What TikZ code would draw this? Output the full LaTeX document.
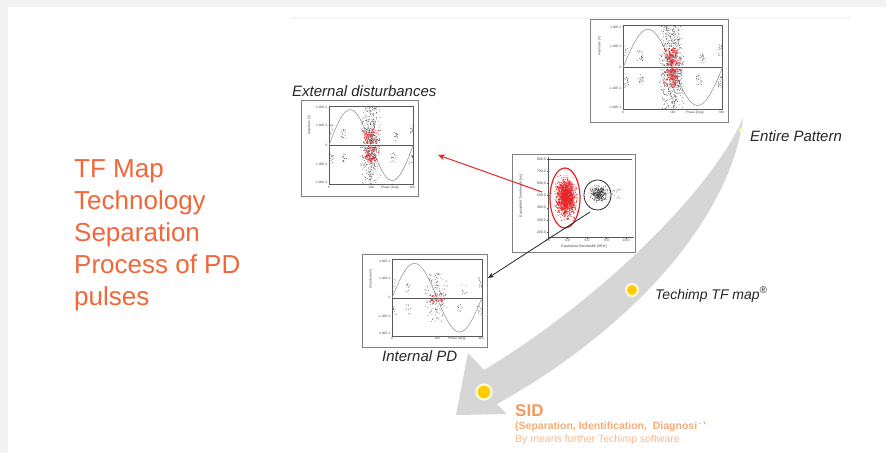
\documentclass[tikz,border=0pt]{standalone}
\usepackage{fontspec}
\setmainfont{Liberation Sans}
\usetikzlibrary{arrows.meta}
\definecolor{titleorange}{HTML}{F0673A}
\definecolor{sidorange}{HTML}{F29A5C}
\definecolor{sidmid}{HTML}{F4AC78}
\definecolor{sidlight}{HTML}{F6BC90}
\definecolor{pagegray}{HTML}{F2F2F2}
\definecolor{arrowgray}{HTML}{D6D6D6}
\definecolor{dotyellow}{HTML}{FFCC00}
\definecolor{labelgray}{HTML}{262626}
\definecolor{plotred}{HTML}{E8262A}
\newcommand\tinyfont{\fontsize{3.2}{3.6}\selectfont}
\newcommand\smallplotfont{\fontsize{3.6}{4.2}\selectfont}
\tikzset{
  plotframe/.style={draw=black!50, line width=1.1pt, fill=white, inner sep=0pt, anchor=north west},
  axisline/.style={draw=black!65, line width=0.35pt},
  sinecurve/.style={draw=black!45, line width=0.5pt},
  ticklab/.style={font=\tinyfont, text=black!70, inner sep=0pt},
  tflab/.style={font=\smallplotfont, text=black!70, inner sep=0pt},
  graydot/.style={fill=black!65},
  reddot/.style={fill=plotred},
  lab/.style={font=\fontsize{15}{18}\selectfont\itshape, text=labelgray, inner sep=0pt, anchor=base west},
  yellowdot/.style={circle, fill=dotyellow, draw=yellow!12, line width=2pt, inner sep=0pt},
  redarrow/.style={draw=plotred, line width=1pt, -{Stealth[length=7pt,width=6pt]}},
  blackarrow/.style={draw=black!85, line width=0.8pt, -{Stealth[length=6pt,width=5pt]}}
}
% #1 node, #2 w, #3 h, #4 seed, #5 Ngray, #6 gray amp, #7 Nred, #8 red amp, #9 Nside
\newcommand\prpdplot[9]{%
\begin{scope}[shift={(#1.north west)}]
\pgfmathsetseed{#4}
\pgfmathsetmacro\aL{0.24*#2}
\pgfmathsetmacro\aR{0.96*#2}
\pgfmathsetmacro\aT{0.06*#3}
\pgfmathsetmacro\aB{0.88*#3}
\pgfmathsetmacro\aM{0.5*(\aT+\aB)}
\pgfmathsetmacro\aW{\aR-\aL}
\pgfmathsetmacro\aH{\aM-\aT}
\draw[axisline] (\aL,\aT) rectangle (\aR,\aB);
\draw[axisline] (\aL,\aM) -- (\aR,\aM);
\node[ticklab,anchor=east] (#1-y1) at (\aL-1.5,\aT+2) {2.00E-2};
\node[ticklab,anchor=east] (#1-y2) at (\aL-1.5,\aM-0.5*\aH) {1.00E-2};
\node[ticklab,anchor=east] (#1-y3) at (\aL-1.5,\aM) {0};
\node[ticklab,anchor=east] (#1-y4) at (\aL-1.5,\aM+0.5*\aH) {-1.00E-2};
\node[ticklab,anchor=east] (#1-y5) at (\aL-1.5,\aB-2) {-2.00E-2};
\node[ticklab,anchor=north] (#1-x1) at (\aL,\aB+1.2) {0};
\node[ticklab,anchor=north] (#1-x2) at (\aL+0.5*\aW,\aB+1.2) {180};
\node[ticklab,anchor=north] (#1-x3) at (\aL+0.72*\aW,\aB+1.2) {Phase [Deg]};
\node[ticklab,anchor=north] (#1-x4) at (\aR-1,\aB+1.2) {360};
\node[ticklab,rotate=90] (#1-ya) at (0.07*#2,\aM-0.5*\aH) {Amplitude [V]};
\draw[sinecurve] plot[domain=0:360,samples=73,smooth] ({\aL+\aW*(\x/360)},{\aM-0.9*\aH*sin(\x)});
\foreach \i in {1,...,#5}{%
  \pgfmathsetmacro\rr{rnd}%
  \pgfmathsetmacro\px{\aL+\aW*(0.49+0.065*(rand+rand))}%
  \pgfmathsetmacro\py{\aM-\aH*(0.04+#6*\rr*(0.45+0.55*\rr))*(rand<0?-1:1)}%
  \fill[graydot] (\px,\py) circle[radius=0.45];
}
\foreach \cx/\ca in {0.015/0.4,0.17/0.28,0.8/0.22,0.985/0.4,0.03/-0.35,0.18/-0.3,0.76/-0.3,0.975/-0.35}{%
  \foreach \j in {1,...,#9}{%
    \pgfmathsetmacro\px{\aL+\aW*max(0.004,min(0.996,\cx+0.03*rand))}%
    \pgfmathsetmacro\py{\aM-\aH*(\ca+0.13*rand)}%
    \fill[graydot] (\px,\py) circle[radius=0.45];
  }
}
\foreach \i in {1,...,#7}{%
  \pgfmathsetmacro\px{\aL+\aW*(0.5+0.05*(rand+rand))}%
  \pgfmathsetmacro\py{\aM-\aH*(0.03+#8*rnd)*(rand<0?-1:1)}%
  \fill[reddot] (\px,\py) circle[radius=0.55];
}
\end{scope}}
\begin{document}
\begin{tikzpicture}[x=1pt,y=-1pt]
\useasboundingbox (0,0) rectangle (886,453);
% page
\fill[pagegray] (0,0) rectangle (886,453);
\fill[white] (8,7) rectangle (886,453);
\draw[black!4, line width=2pt] (290,18) -- (850,18);
% title
\node[anchor=north west, align=left, text=titleorange, font=\fontsize{26}{32}\selectfont, inner sep=0pt] (title) at (74,159.5) {TF Map\\Technology\\Separation\\Process of PD\\pulses};
% big grey arrow
\fill[arrowgray] (743,118) .. controls (730,220) and (630,330) .. (497,404)
  -- (507,414) -- (456,415) -- (468,353) -- (484,370)
  .. controls (600,300) and (712,190) .. (743,118) -- cycle;
\node[circle, fill=yellow!35, inner sep=0pt, minimum size=4pt] (topdot) at (741,130) {};
\node[yellowdot, minimum size=12pt] (dotmap) at (632,290) {};
\node[yellowdot, minimum size=15pt] (dotsid) at (484,392) {};
% plot frames
\node[plotframe, minimum width=138pt, minimum height=103pt] (ent) at (590,19) {};
\node[plotframe, minimum width=117pt, minimum height=96pt] (ext) at (301,100) {};
\node[plotframe, minimum width=125pt, minimum height=93pt] (int) at (362,254) {};
\node[plotframe, minimum width=123pt, minimum height=98pt] (tf) at (512,154) {};
% PRPD contents
\prpdplot{ent}{138}{103}{11}{650}{0.95}{300}{0.42}{18}
\prpdplot{ext}{117}{96}{23}{480}{0.95}{170}{0.38}{14}
\prpdplot{int}{125}{93}{37}{150}{0.6}{35}{0.1}{9}
% TF map contents
\begin{scope}[shift={(tf.north west)}]
\pgfmathsetseed{51}
\draw[axisline] (36,3) -- (36,83) -- (122,83);
\draw[axisline] (36,5) -- (120,5);
\foreach \v in {800,700,600,500,400,300,200}{%
  \pgfmathsetmacro\yy{5+(800-\v)*0.1217}
  \draw[axisline] (34.5,\yy) -- (36,\yy);
  \node[tflab,anchor=east] (tf-y\v) at (34,\yy) {\v.0};
}
\foreach \v in {2,4,6,8,10}{%
  \pgfmathsetmacro\xx{36+9.75*(\v-2)}
  \draw[axisline] (\xx,83) -- (\xx,84.5);
  \node[tflab,anchor=north] (tf-x\v) at (\xx,85) {\v.0};
}
\node[tflab,anchor=north] (tf-xt) at (72,90.5) {Equivalent Bandwidth [MHz]};
\node[tflab,rotate=90] (tf-yt) at (9,42) {Equivalent Timelength [ns]};
\foreach \i in {1,...,1300}{%
  \pgfmathsetmacro\px{54+4.3*(rand+rand+rand)}%
  \pgfmathsetmacro\py{44+8.5*(rand+rand+rand)}%
  \fill[reddot] (\px,\py) circle[radius=0.55];
}
\foreach \i in {1,...,420}{%
  \pgfmathsetmacro\px{87+3.8*(rand+rand+rand)}%
  \pgfmathsetmacro\py{40+3.3*(rand+rand+rand)}%
  \fill[fill=black!75] (\px,\py) circle[radius=0.38];
}
\foreach \i in {1,...,30}{%
  \pgfmathsetmacro\px{96+12*rnd}%
  \pgfmathsetmacro\py{40+5*rand}%
  \fill[fill=black!60] (\px,\py) circle[radius=0.35];
}
\draw[plotred, line width=1.2pt] (53,44) ellipse[x radius=15, y radius=30];
\draw[black!85, line width=0.8pt] (85.5,41) ellipse[x radius=13.5, y radius=15];
\end{scope}
% connectors
\coordinate (redstart) at (542,192);
\coordinate (redtip) at (438,155);
\coordinate (blackstart) at (590,212);
\coordinate (blacktip) at (488,278);
\draw[redarrow] (redstart) -- (redtip);
\draw[blackarrow] (blackstart) -- (blacktip);
% labels
\node[lab] (extlab) at (292,96) {External disturbances};
\node[lab] (entlab) at (750,141) {Entire Pattern};
\node[lab] (intlab) at (382,361) {Internal PD};
\node[lab, font=\fontsize{14}{17}\selectfont\itshape] (maplab) at (655,299) {Techimp TF map\textsuperscript{®}};
\node[anchor=base west, inner sep=0pt, font=\fontsize{17}{20}\selectfont\bfseries, text=sidorange] (sid) at (515,416) {SID};
\node[anchor=base west, inner sep=0pt, font=\fontsize{10.5}{12}\selectfont\bfseries, text=sidmid] (sidsub) at (515,429) {(Separation, Identification,\ \ Diagnosis)};
\node[anchor=base west, inner sep=0pt, font=\fontsize{10.5}{12}\selectfont, text=sidlight] (sidsw) at (515,442) {By means further Techimp software};
\fill[white] (697,423.5) rectangle (886,453);
\end{tikzpicture}
\end{document}
